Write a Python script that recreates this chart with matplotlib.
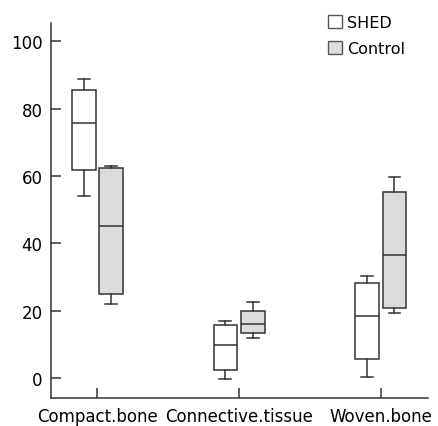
import matplotlib.pyplot as plt
from matplotlib.patches import Patch

# five-number summaries per tissue type
categories = ["Compact.bone", "Connective.tissue", "Woven.bone"]
groups = ["SHED", "Control"]

shed_low = [54.0, -0.2, 0.4]
shed_q1 = [61.8, 2.4, 5.6]
shed_med = [75.8, 9.7, 18.4]
shed_q3 = [85.6, 15.8, 28.1]
shed_high = [88.9, 17.0, 30.4]

ctrl_low = [22.0, 11.8, 19.4]
ctrl_q1 = [24.9, 13.4, 20.8]
ctrl_med = [45.1, 16.0, 36.6]
ctrl_q3 = [62.4, 19.9, 55.3]
ctrl_high = [63.0, 22.7, 59.7]

yticks = [0, 20, 40, 60, 80, 100]


def make_stats(low, q1, med, q3, high):
    return [dict(whislo=a, q1=b, med=c, q3=d, whishi=e, fliers=[])
            for a, b, c, d, e in zip(low, q1, med, q3, high)]


def main():
    plt.rcParams["font.family"] = "DejaVu Sans"
    fig = plt.figure(figsize=(4.38, 4.27), dpi=100)
    ax = fig.add_axes([0.1164, 0.0649, 0.8606, 0.8781])

    edge = "#333333"
    fills = ["white", "#dcdcdc"]
    offsets = [-0.096, 0.096]
    width = 0.168
    pos = [1, 2, 3]

    all_stats = [make_stats(shed_low, shed_q1, shed_med, shed_q3, shed_high),
                 make_stats(ctrl_low, ctrl_q1, ctrl_med, ctrl_q3, ctrl_high)]

    for stats, off, fc in zip(all_stats, offsets, fills):
        ax.bxp(stats, positions=[p + off for p in pos], widths=width,
               patch_artist=True, showfliers=False, manage_ticks=False,
               boxprops=dict(facecolor=fc, edgecolor=edge, linewidth=1.1),
               medianprops=dict(color=edge, linewidth=1.1),
               whiskerprops=dict(color=edge, linewidth=1.1),
               capprops=dict(color=edge, linewidth=1.1))

    ax.set_xlim(0.674, 3.332)
    ax.set_ylim(-6, 105.3)
    ax.set_xticks(pos)
    ax.set_xticklabels(categories)
    ax.set_yticks(yticks)

    for side in ["top", "right"]:
        ax.spines[side].set_visible(False)
    for side in ["left", "bottom"]:
        ax.spines[side].set_color(edge)
        ax.spines[side].set_linewidth(1.1)
    ax.tick_params(direction="in", length=7, width=1.1, color=edge,
                   labelsize=12, labelcolor="black", pad=6)

    handles = [Patch(facecolor=fc, edgecolor="#555555", linewidth=1.0)
               for fc in fills]
    fig.legend(handles, groups, loc="upper left",
               bbox_to_anchor=(0.735, 0.978), frameon=False, fontsize=11.5,
               handlelength=0.85, handleheight=0.85, handletextpad=0.3,
               labelspacing=0.72, borderaxespad=0)

    fig.savefig("out.png", dpi=100)


if __name__ == "__main__":
    main()
